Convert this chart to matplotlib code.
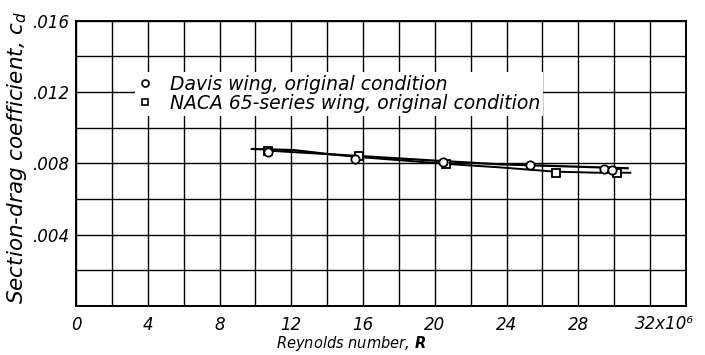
import numpy as np
import matplotlib
matplotlib.use('Agg')
import matplotlib.pyplot as plt
from matplotlib.lines import Line2D
from matplotlib.transforms import blended_transform_factory

# Davis wing, original condition (circles)
davis_R = [10.7, 15.55, 20.45, 25.3, 29.45, 29.9]
davis_cd = [0.00865, 0.00822, 0.00809, 0.00790, 0.00768, 0.00760]

# NACA 65-series wing, original condition (squares)
naca_R = [10.7, 15.75, 20.65, 26.75, 30.15]
naca_cd = [0.00868, 0.00840, 0.00794, 0.00744, 0.00747]

# faired curves
davis_fair_R = [9.8, 12.1, 14.2, 20.3, 23.6, 30.75]
davis_fair_cd = [0.00880, 0.00874, 0.00850, 0.00813, 0.00794, 0.00772]
naca_fair_R = [10.8, 14.2, 15.75, 20.7, 23.6, 26.7, 29.0, 30.9]
naca_fair_cd = [0.00870, 0.00850, 0.00835, 0.00796, 0.00777, 0.00753, 0.00747, 0.00747]

x_ticks = [0, 4, 8, 12, 16, 20, 24, 28, 32]
x_tick_labels = ['0', '4', '8', '12', '16', '20', '24', '28', '32x10\u2076']
y_ticks = [0.004, 0.008, 0.012, 0.016]
y_tick_labels = ['.004', '.008', '.012', '.016']

plt.rcParams['font.family'] = ['DejaVu Sans']
plt.rcParams['font.style'] = 'italic'
plt.rcParams['mathtext.fontset'] = 'dejavusans'

fig = plt.figure(figsize=(7.05, 3.55), dpi=100)
ax = fig.add_axes([76 / 705, 49 / 355, 610 / 705, 285.5 / 355])

ax.set_xlim(0, 34)
ax.set_ylim(0, 0.016)

# grid every 2 units in R and every .002 in cd
ax.set_xticks(np.arange(0, 35, 2), minor=True)
ax.set_yticks(np.arange(0, 0.0161, 0.002), minor=True)
ax.set_xticks(x_ticks[:-1], x_tick_labels[:-1])
ax.set_yticks(y_ticks, y_tick_labels)
ax.grid(True, which='both', color='black', linewidth=1.0)
ax.set_axisbelow(True)
ax.tick_params(which='both', length=0, labelsize=12)
ax.tick_params(axis='x', pad=7)
ax.tick_params(axis='y', pad=5)
for s in ax.spines.values():
    s.set_linewidth(1.4)

# last x label sits a bit to the right of its grid line
trans = blended_transform_factory(ax.transData, ax.transAxes)
ax.text(32.8, -0.063, x_tick_labels[-1], transform=trans, ha='center',
        va='center', fontsize=12, fontstyle='italic', clip_on=False)

ax.plot(davis_fair_R, davis_fair_cd, color='black', linewidth=1.6, zorder=3)
ax.plot(naca_fair_R, naca_fair_cd, color='black', linewidth=1.4, zorder=3)
ax.plot(naca_R, naca_cd, linestyle='none', marker='s', markersize=5.5,
        markerfacecolor='white', markeredgecolor='black', markeredgewidth=1.3, zorder=4)
ax.plot(davis_R, davis_cd, linestyle='none', marker='o', markersize=6,
        markerfacecolor='white', markeredgecolor='black', markeredgewidth=1.3, zorder=5)

handles = [
    Line2D([], [], linestyle='none', marker='o', markersize=5,
           markerfacecolor='white', markeredgecolor='black', markeredgewidth=1.2),
    Line2D([], [], linestyle='none', marker='s', markersize=5,
           markerfacecolor='white', markeredgecolor='black', markeredgewidth=1.2),
]
leg = ax.legend(handles, ['Davis wing, original condition',
                          'NACA 65-series wing, original condition'],
                loc='upper left', bbox_to_anchor=(0.097, 0.82), fontsize=13.5,
                frameon=True, fancybox=False, framealpha=1, edgecolor='none',
                facecolor='white', handlelength=0.8, handletextpad=0.9,
                labelspacing=0.0, borderpad=0.15, borderaxespad=0)
for t in leg.get_texts():
    t.set_fontstyle('italic')

ax.set_xlabel('Reynolds number, $\\mathbf{R}$', fontsize=10.5)
ax.xaxis.set_label_coords((351 - 76) / 610, -0.13)
ax.xaxis.label.set_verticalalignment('center')
ax.set_ylabel('Section-drag coefficient, $c_d$', fontsize=15.5)
ax.yaxis.set_label_coords(-0.097, 0.52)
ax.yaxis.label.set_verticalalignment('center')

fig.savefig('out.png', dpi=100)
